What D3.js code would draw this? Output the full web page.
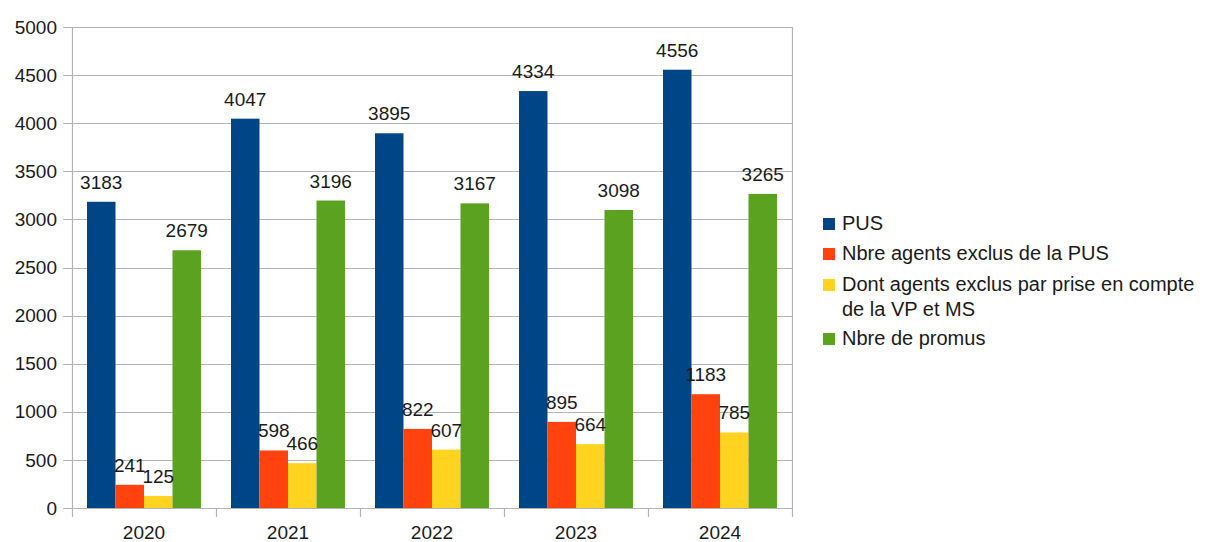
<!DOCTYPE html>
<html>
<head>
<meta charset="utf-8">
<script src="https://cdn.jsdelivr.net/npm/d3@7"></script>
<style>
  body { margin: 0; background: #fff; }
  svg text { font-family: "Liberation Sans", Arial, sans-serif; fill: #1a1a1a; }
</style>
</head>
<body>
<svg id="chart" width="1208" height="542"></svg>
<script>
// data
const years = ["2020", "2021", "2022", "2023", "2024"]
const seriesNames = ["PUS", "Nbre agents exclus de la PUS", "Dont agents exclus par prise en compte de la VP et MS", "Nbre de promus"]
const pus = [3183, 4047, 3895, 4334, 4556]
const exclus = [241, 598, 822, 895, 1183]
const exclusVpMs = [125, 466, 607, 664, 785]
const promus = [2679, 3196, 3167, 3098, 3265]
const yTicks = [0, 500, 1000, 1500, 2000, 2500, 3000, 3500, 4000, 4500, 5000]
const colors = ["#004586", "#ff420e", "#ffd320", "#5ca221"]

const seriesValues = [pus, exclus, exclusVpMs, promus]

const svg = d3.select("#chart")
const plotLeft = 72, plotRight = 792, plotTop = 27, plotBottom = 508

const x = d3.scaleBand().domain(years).range([plotLeft, plotRight])
const x1 = d3.scaleBand().domain(d3.range(seriesNames.length)).range([15, x.bandwidth() - 15])
const y = d3.scaleLinear().domain([0, 5000]).range([plotBottom, plotTop])

// horizontal gridlines, with a short tick to the left of the axis
svg.append("g")
    .selectAll("line")
    .data(yTicks)
    .join("line")
    .attr("x1", plotLeft - 9)
    .attr("x2", plotRight)
    .attr("y1", d => Math.round(y(d)) + 0.5)
    .attr("y2", d => Math.round(y(d)) + 0.5)
    .attr("stroke", "#b3b3b3")
    .attr("stroke-width", 1.2)

// y tick labels
svg.append("g")
    .selectAll("text")
    .data(yTicks)
    .join("text")
    .attr("x", plotLeft - 15)
    .attr("y", d => y(d))
    .attr("dy", "0.35em")
    .attr("text-anchor", "end")
    .style("font-size", "19px")
    .text(d => d)

// axis lines
svg.append("line").attr("x1", plotLeft + 0.5).attr("x2", plotLeft + 0.5).attr("y1", plotTop).attr("y2", plotBottom)
    .attr("stroke", "#b3b3b3").attr("stroke-width", 1.2)
svg.append("line").attr("x1", plotRight + 0.5).attr("x2", plotRight + 0.5).attr("y1", plotTop).attr("y2", plotBottom)
    .attr("stroke", "#b3b3b3").attr("stroke-width", 1.2)

// category separators under the x axis
const seps = years.map(d => x(d)).concat([plotRight])
svg.append("g")
    .selectAll("line")
    .data(seps)
    .join("line")
    .attr("x1", d => Math.round(d) + 0.5)
    .attr("x2", d => Math.round(d) + 0.5)
    .attr("y1", plotBottom)
    .attr("y2", plotBottom + 9)
    .attr("stroke", "#b3b3b3")
    .attr("stroke-width", 1.2)

// year labels
svg.append("g")
    .selectAll("text")
    .data(years)
    .join("text")
    .attr("x", d => x(d) + x.bandwidth() / 2)
    .attr("y", 539)
    .attr("text-anchor", "middle")
    .style("font-size", "19px")
    .text(d => d)

// bars
const groups = svg.append("g")
    .selectAll("g")
    .data(years)
    .join("g")
    .attr("transform", d => `translate(${x(d)},0)`)

groups.selectAll("rect")
    .data((d, i) => seriesValues.map((s, k) => ({k: k, v: s[i]})))
    .join("rect")
    .attr("x", d => x1(d.k))
    .attr("width", x1.bandwidth())
    .attr("y", d => y(d.v))
    .attr("height", d => plotBottom - y(d.v))
    .attr("fill", d => colors[d.k])

// value labels
groups.selectAll("text")
    .data((d, i) => seriesValues.map((s, k) => ({k: k, v: s[i]})))
    .join("text")
    .attr("x", d => x1(d.k) + x1.bandwidth() / 2)
    .attr("y", d => y(d.v) - 13)
    .attr("text-anchor", "middle")
    .style("font-size", "19px")
    .text(d => d.v)

// legend
const legendRows = [
    {k: 0, lines: ["PUS"], y: 223},
    {k: 1, lines: ["Nbre agents exclus de la PUS"], y: 253},
    {k: 2, lines: ["Dont agents exclus par prise en compte", "de la VP et MS"], y: 284},
    {k: 3, lines: ["Nbre de promus"], y: 338}
]
const legend = svg.append("g")
legend.selectAll("rect")
    .data(legendRows)
    .join("rect")
    .attr("x", 823)
    .attr("y", d => d.y - 5)
    .attr("width", 12)
    .attr("height", 12)
    .attr("fill", d => colors[d.k])
legend.selectAll("text")
    .data(legendRows)
    .join("text")
    .attr("x", 842)
    .attr("y", d => d.y)
    .style("font-size", "20px")
    .each(function(d) {
        d3.select(this).selectAll("tspan")
            .data(d.lines)
            .join("tspan")
            .attr("x", 842)
            .attr("dy", (l, i) => i === 0 ? "0.35em" : "1.25em")
            .text(l => l)
    })
</script>
</body>
</html>
